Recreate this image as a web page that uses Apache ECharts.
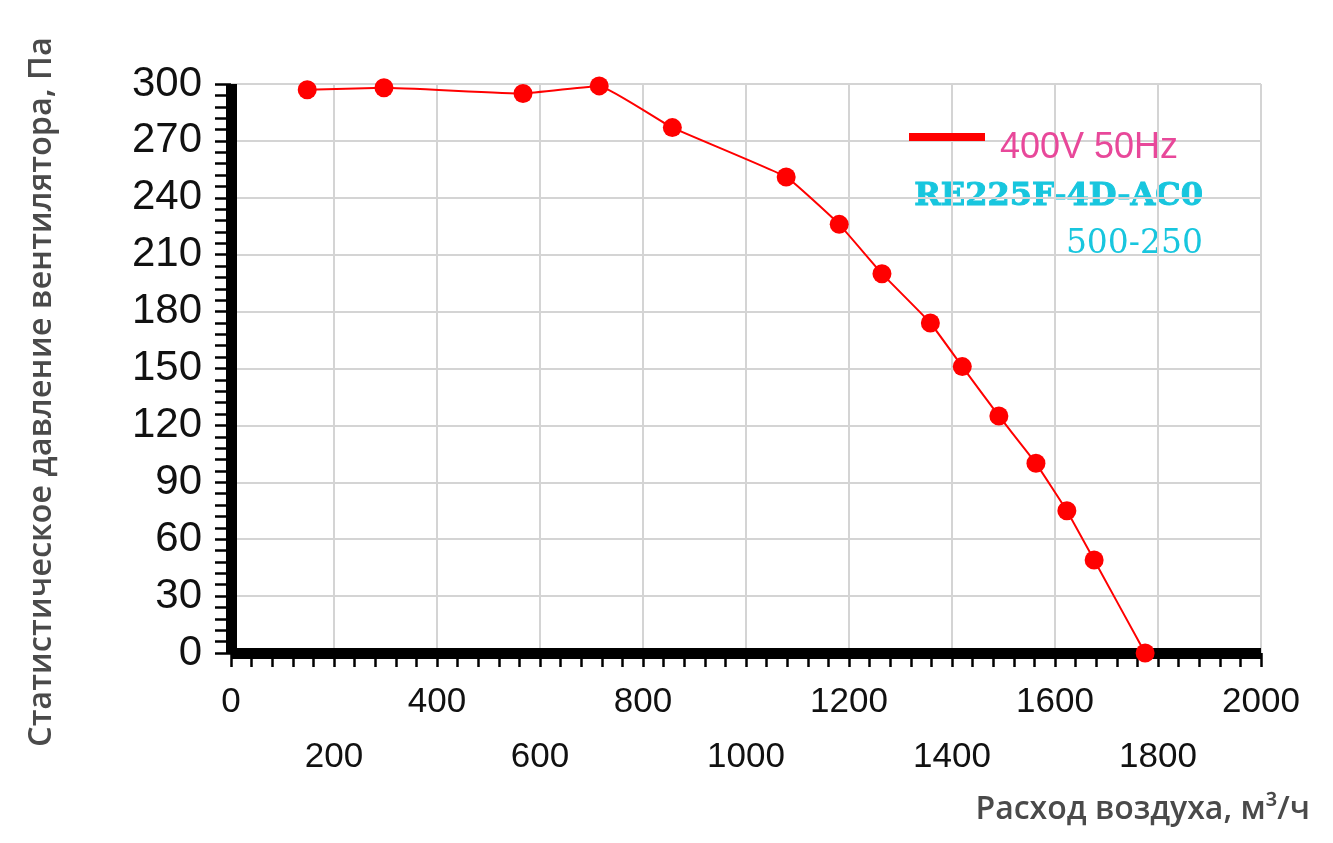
<!DOCTYPE html>
<html>
<head>
  <meta charset="utf-8">
  <script src="https://cdn.jsdelivr.net/npm/echarts@6/dist/echarts.min.js"></script>
  <style>
    html, body { margin: 0; padding: 0; background: #fff; }
    #main { width: 1333px; height: 843px; }
  </style>
</head>
<body>
  <div id="main"></div>
  <script type="text/javascript">
    // расход воздуха, м3/ч
    var flow = [148, 297, 567, 715, 857, 1078, 1181, 1264, 1358, 1420, 1491, 1563, 1623, 1676, 1775];
    // статическое давление, Па
    var pressure = [297, 298, 295, 299, 277, 251, 226, 200, 174, 151, 125, 100, 75, 49, 0];

    var seriesName = '400V 50Hz';
    var modelName = 'RE225F-4D-AC0';
    var sizeName = '500-250';
    var xName = 'Расход воздуха, м³/ч';
    var yName = 'Статистическое давление вентилятора, Па';

    var points = [];
    for (var i = 0; i < flow.length; i++) {
      points.push([flow[i], pressure[i]]);
    }

    var myChart = echarts.init(document.getElementById('main'));
    var option = {
      animation: false,
      grid: {
        left: 231,
        right: 72,
        top: 84,
        bottom: 190
      },
      legend: {
        data: [{ name: seriesName, icon: 'rect' }],
        left: 904,
        top: 125,
        itemWidth: 76,
        itemHeight: 8,
        formatter: '{t|{name}}',
        textStyle: {
          rich: {
            t: {
              color: '#e8489a',
              fontFamily: 'Liberation Sans',
              fontSize: 36,
              padding: [22, 0, 0, 10]
            }
          }
        }
      },
      xAxis: {
        type: 'value',
        min: 0,
        max: 2000,
        interval: 200,
        axisLine: { lineStyle: { color: '#000', width: 11, cap: 'butt' } },
        axisTick: { show: true, length: 14, lineStyle: { color: '#000', width: 2.5 } },
        minorTick: { show: true, splitNumber: 5, length: 14, lineStyle: { color: '#000', width: 2.5 } },
        splitLine: { show: true, lineStyle: { color: '#d4d4d4', width: 2 } },
        axisLabel: {
          margin: 22,
          color: '#111',
          fontFamily: 'Liberation Sans',
          fontSize: 35,
          lineHeight: 55,
          verticalAlign: 'top',
          formatter: function (v) {
            return (v / 200) % 2 === 1 ? '\n' + v : '' + v;
          }
        }
      },
      yAxis: {
        type: 'value',
        min: 0,
        max: 300,
        interval: 30,
        axisLine: { show: true, lineStyle: { color: '#000', width: 11, cap: 'butt' } },
        axisTick: { show: true, length: 16, lineStyle: { color: '#000', width: 2.5 } },
        minorTick: { show: true, splitNumber: 5, length: 16, lineStyle: { color: '#000', width: 2.5 } },
        splitLine: { show: true, lineStyle: { color: '#d4d4d4', width: 2 } },
        axisLabel: {
          margin: 29,
          color: '#111',
          fontFamily: 'Liberation Sans',
          fontSize: 42
        }
      },
      graphic: [
        {
          type: 'text',
          style: {
            text: modelName,
            x: 1203,
            y: 197,
            align: 'right',
            verticalAlign: 'middle',
            fill: '#18c6de',
            stroke: '#18c6de',
            lineWidth: 1,
            font: 'bold 32px "DejaVu Serif", serif'
          }
        },
        {
          type: 'text',
          style: {
            text: sizeName,
            x: 1203,
            y: 244,
            align: 'right',
            verticalAlign: 'middle',
            fill: '#18c6de',
            font: '500 33px "DejaVu Serif", serif'
          }
        },
        {
          type: 'text',
          style: {
            text: xName,
            x: 1310,
            y: 810,
            align: 'right',
            verticalAlign: 'middle',
            fill: '#4a4a4a',
            font: '600 32px "Open Sans"'
          }
        },
        {
          type: 'text',
          x: 42,
          y: 392,
          rotation: Math.PI / 2,
          style: {
            text: yName,
            x: 0,
            y: 0,
            align: 'center',
            verticalAlign: 'middle',
            fill: '#4a4a4a',
            font: '600 32.5px "Open Sans"'
          }
        }
      ],
      series: [{
        name: seriesName,
        type: 'line',
        data: points,
        smooth: 0.1,
        symbol: 'circle',
        symbolSize: 19,
        itemStyle: { color: '#ff0000' },
        lineStyle: { color: '#ff0000', width: 2 }
      }]
    };
    myChart.setOption(option);
  </script>
</body>
</html>
